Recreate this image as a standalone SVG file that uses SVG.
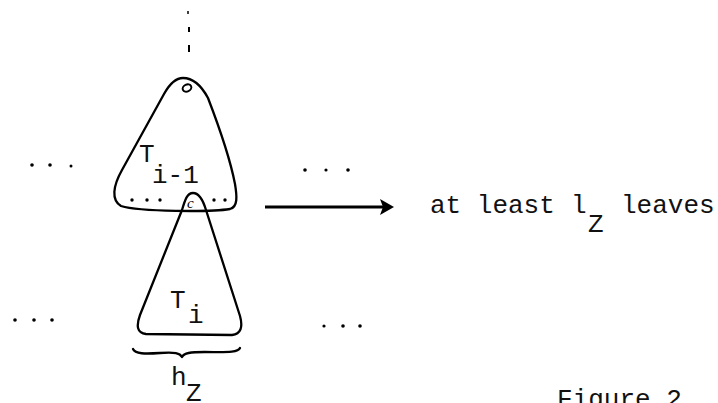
<svg xmlns="http://www.w3.org/2000/svg" width="718" height="403" viewBox="0 0 718 403">
<style>
.shape{fill:none;stroke:#000;stroke-width:2.3;stroke-linejoin:round;stroke-linecap:round}
.t{font-family:"Liberation Mono","Courier New",monospace;font-size:26px;fill:#111}
.dot{fill:#000}
</style>
<rect width="718" height="403" fill="#fff"/>
<g id="top-dashes">
<line x1="188" y1="11" x2="188" y2="14" stroke="#000" stroke-width="1.5"/>
<line x1="189" y1="27" x2="189" y2="32" stroke="#000" stroke-width="2"/>
<line x1="189" y1="45" x2="189" y2="52" stroke="#000" stroke-width="2"/>
</g>
<g id="tree-i-1">
<path class="shape" d="M183,78 C175,78 169,85 164,94 L122,170 C113,186 111,200 121,206 C140,212 212,212 230,209 C238,207 237,196 235,184 C230,158 218,124 208,98 C201,85 192,78 183,78 Z"/>
<ellipse cx="187" cy="88" rx="4.5" ry="3.5" transform="rotate(-25 187 88)" fill="none" stroke="#000" stroke-width="2"/>
<text class="t" x="139" y="162">T</text>
<text class="t" x="152" y="183">i-1</text>
<circle class="dot" cx="132" cy="200" r="1.7"/>
<circle class="dot" cx="147" cy="200" r="1.7"/>
<circle class="dot" cx="160" cy="200" r="1.7"/>
<circle class="dot" cx="214" cy="200" r="1.7"/>
<circle class="dot" cx="225" cy="200" r="1.7"/>
</g>
<g id="tree-i">
<path class="shape" d="M193,193 C187,193 185,200 182,210 L140,315 C136,326 137,333 146,334 L232,335 C241,334 243,327 240,316 L206,210 C203,200 199,193 193,193 Z"/>
<text x="187" y="208" font-family="Liberation Serif,serif" font-style="italic" font-size="15" fill="#000">c</text>
<text class="t" x="170" y="308">T</text>
<text class="t" x="188" y="323">i</text>
<path class="shape" d="M133,349 C135,354 145,354 160,353 C175,352 180,353 182,357 C184,353 190,352 205,352 C225,352 238,353 240,348"/>
<text class="t" x="171" y="385">h</text>
<text class="t" x="186" y="401">Z</text>
</g>
<g id="ellipses">
<circle class="dot" cx="32" cy="165" r="1.8"/>
<circle class="dot" cx="50" cy="165" r="1.8"/>
<circle class="dot" cx="71" cy="166" r="1.5"/>
<circle class="dot" cx="305" cy="170" r="1.8"/>
<circle class="dot" cx="326" cy="170" r="1.6"/>
<circle class="dot" cx="348" cy="170" r="1.8"/>
<circle class="dot" cx="15" cy="320" r="1.8"/>
<circle class="dot" cx="34" cy="320" r="1.8"/>
<circle class="dot" cx="52" cy="320" r="1.8"/>
<circle class="dot" cx="324" cy="326" r="1.6"/>
<circle class="dot" cx="343" cy="326" r="1.8"/>
<circle class="dot" cx="360" cy="326" r="1.8"/>
</g>
<g id="connectors">
<line x1="265" y1="207" x2="384" y2="207" stroke="#000" stroke-width="2.8"/>
<polygon points="380,199 394,207 380,215 383,207" fill="#000"/>
</g>
<g id="label-leaves">
<text class="t" x="430" y="213">at least</text>
<text class="t" x="571" y="213">l</text>
<text class="t" x="588" y="232">Z</text>
<text class="t" x="621" y="213">leaves</text>
</g>
<g id="caption">
<text class="t" x="557" y="407">Figure 2</text>
</g>
</svg>
